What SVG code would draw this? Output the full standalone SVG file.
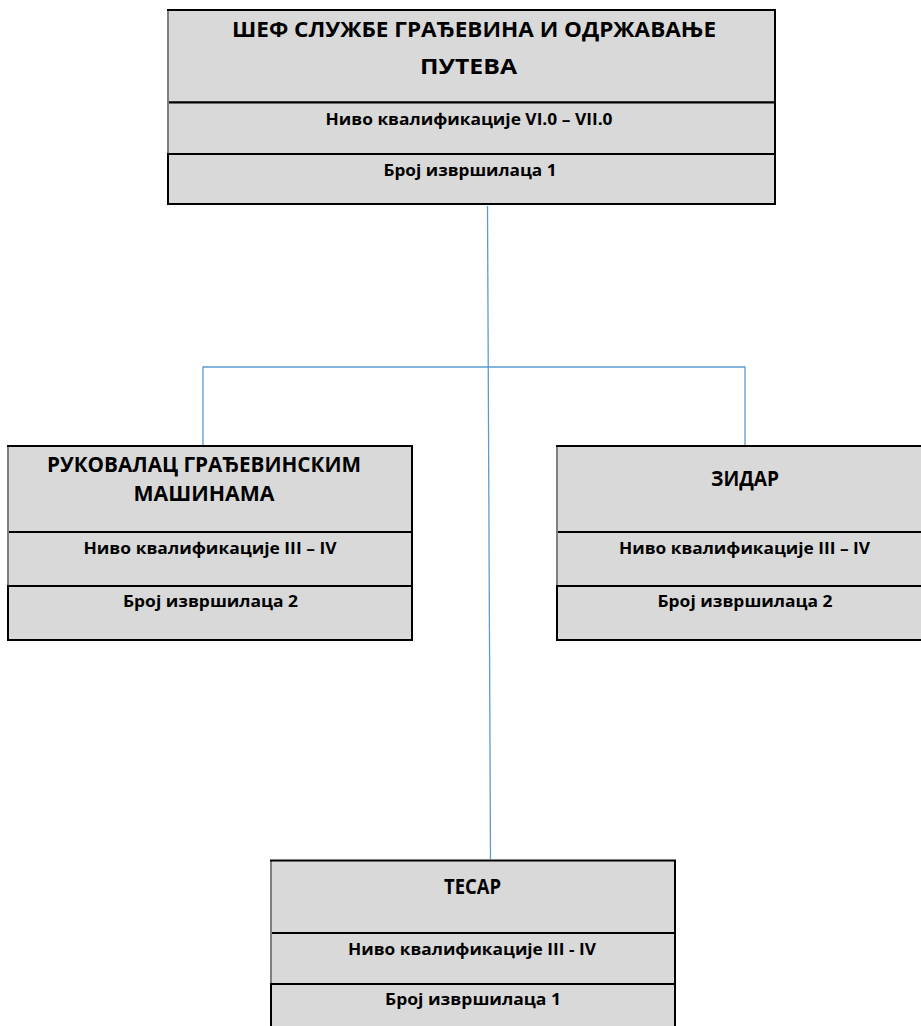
<svg xmlns="http://www.w3.org/2000/svg" width="921" height="1026" viewBox="0 0 921 1026">
<style>
.cell{fill:#d9d9d9;stroke:#000;stroke-width:2}
.gl{stroke:#7f7f7f;stroke-width:2}
.t{font-family:"Open Sans","Liberation Sans",sans-serif;font-weight:700;fill:#000;text-anchor:middle}
.h{font-size:21px}
.s{font-size:16px}
.c{fill:none;stroke:#5b9bd5;stroke-width:1.3}
</style>
<rect width="921" height="1026" fill="#fff"/>
<g id="connectors">
<line class="c" x1="487.5" y1="206" x2="490.5" y2="859"/>
<polyline class="c" points="203,446 203,367 745,367 745,446"/>
</g>
<g id="node-chief">
<rect class="cell" x="168" y="10" width="607" height="92.5"/>
<rect class="cell" x="168" y="102.5" width="607" height="51.5"/>
<rect class="cell" x="168" y="154" width="607" height="50"/>
<line class="gl" x1="168" y1="11" x2="168" y2="153"/>
<text class="t h" x="474" y="37" textLength="484" lengthAdjust="spacingAndGlyphs">ШЕФ СЛУЖБЕ ГРАЂЕВИНА И ОДРЖАВАЊЕ</text>
<text class="t h" x="468.5" y="74" textLength="97" lengthAdjust="spacingAndGlyphs">ПУТЕВА</text>
<text class="t s" x="469" y="124.5" textLength="287" lengthAdjust="spacingAndGlyphs">Ниво квалификације VI.0 – VII.0</text>
<text class="t s" x="470" y="176" textLength="173" lengthAdjust="spacingAndGlyphs">Број извршилаца 1</text>
</g>
<g id="node-operator">
<rect class="cell" x="8" y="446" width="404" height="86"/>
<rect class="cell" x="8" y="532" width="404" height="54"/>
<rect class="cell" x="8" y="586" width="404" height="54"/>
<line class="gl" x1="8" y1="447" x2="8" y2="585"/>
<text class="t h" x="204" y="472" textLength="314" lengthAdjust="spacingAndGlyphs">РУКОВАЛАЦ ГРАЂЕВИНСКИМ</text>
<text class="t h" x="204" y="501" textLength="141" lengthAdjust="spacingAndGlyphs">МАШИНАМА</text>
<text class="t s" x="210" y="554" textLength="253" lengthAdjust="spacingAndGlyphs">Ниво квалификације III – IV</text>
<text class="t s" x="210.5" y="607" textLength="175" lengthAdjust="spacingAndGlyphs">Број извршилаца 2</text>
</g>
<g id="node-mason">
<rect class="cell" x="557" y="446" width="380" height="86"/>
<rect class="cell" x="557" y="532" width="380" height="54"/>
<rect class="cell" x="557" y="586" width="380" height="54"/>
<line class="gl" x1="557" y1="447" x2="557" y2="585"/>
<text class="t h" x="745" y="486" textLength="68" lengthAdjust="spacingAndGlyphs">ЗИДАР</text>
<text class="t s" x="744.5" y="554" textLength="251" lengthAdjust="spacingAndGlyphs">Ниво квалификације III – IV</text>
<text class="t s" x="745" y="607" textLength="175" lengthAdjust="spacingAndGlyphs">Број извршилаца 2</text>
</g>
<g id="node-carpenter">
<rect class="cell" x="271" y="860.5" width="404" height="72.5"/>
<rect class="cell" x="271" y="933" width="404" height="51"/>
<rect class="cell" x="271" y="984" width="404" height="60"/>
<line class="gl" x1="271" y1="861.5" x2="271" y2="983"/>
<text class="t h" x="472.5" y="894" textLength="57" lengthAdjust="spacingAndGlyphs">ТЕСАР</text>
<text class="t s" x="472" y="954.5" textLength="248" lengthAdjust="spacingAndGlyphs">Ниво квалификације III - IV</text>
<text class="t s" x="473" y="1005" textLength="176" lengthAdjust="spacingAndGlyphs">Број извршилаца 1</text>
</g>
</svg>
